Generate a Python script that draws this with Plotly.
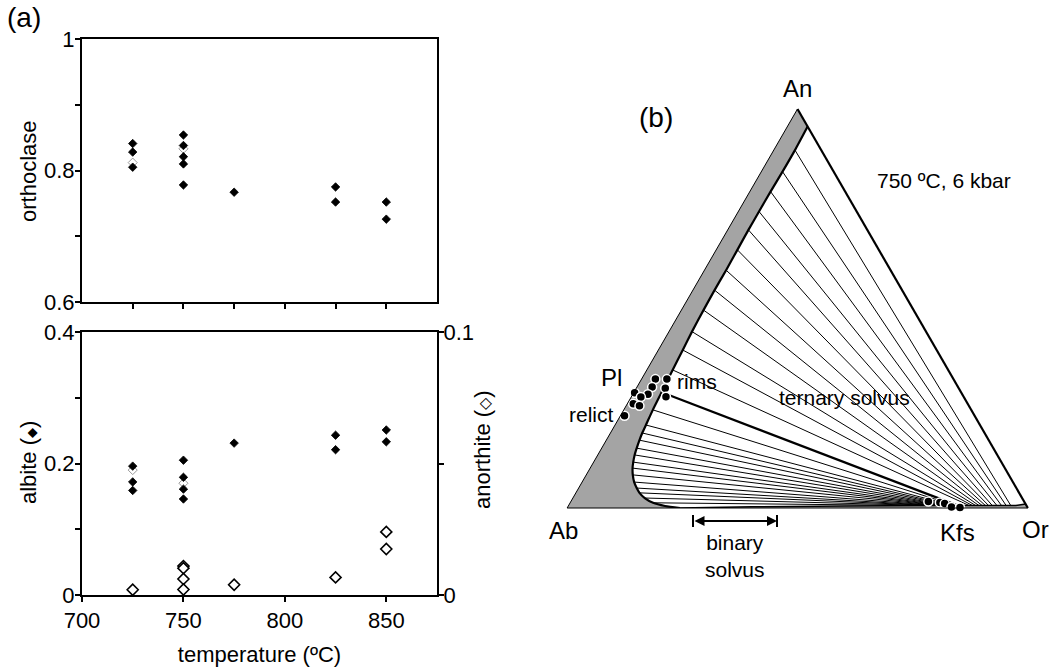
import numpy as np
import plotly.graph_objects as go

# ---------------- panel (a) data ----------------
temp_or = [725, 725, 725, 750, 750, 750, 750, 750, 775, 825, 825, 850, 850]
orthoclase = [0.841, 0.828, 0.805, 0.854, 0.838, 0.821, 0.810, 0.778, 0.767, 0.775, 0.752, 0.752, 0.726]
temp_or_faint = [725, 750]
orthoclase_faint = [0.812, 0.833]

temp_ab = [725, 725, 725, 750, 750, 750, 750, 775, 825, 825, 850, 850]
albite = [0.196, 0.172, 0.159, 0.205, 0.179, 0.161, 0.146, 0.231, 0.243, 0.221, 0.251, 0.233]
temp_ab_faint = [725, 750]
albite_faint = [0.190, 0.170]

temp_an = [725, 750, 750, 750, 750, 775, 825, 850, 850]
anorthite = [0.002, 0.0110, 0.0102, 0.0061, 0.0021, 0.0039, 0.0067, 0.0240, 0.0175]

# ---------------- panel (b) data (ternary An-Ab-Or) ----------------
# plagioclase limb of the 750 C / 6 kbar solvus (top -> Ab-Or join)
pl_limb_an = [0.956, 0.897, 0.843, 0.793, 0.743, 0.697, 0.647, 0.596, 0.546, 0.496,
              0.442, 0.396, 0.346, 0.290, 0.246, 0.208, 0.188, 0.170, 0.150, 0.133,
              0.115, 0.100, 0.083, 0.065, 0.050, 0.038, 0.025, 0.013, 0.005, 0.000]
pl_limb_or = [0.044, 0.046, 0.046, 0.045, 0.045, 0.045, 0.046, 0.047, 0.047, 0.048,
              0.050, 0.053, 0.056, 0.060, 0.063, 0.067, 0.069, 0.072, 0.076, 0.080,
              0.086, 0.092, 0.101, 0.113, 0.126, 0.138, 0.156, 0.180, 0.210, 0.245]
# alkali-feldspar limb (Ab-Or join -> Or corner -> An-Or join)
kfs_limb_an = [0.000, 0.003, 0.005, 0.006, 0.006, 0.010, 0.956]
kfs_limb_or = [0.245, 0.400, 0.600, 0.800, 0.970, 0.990, 0.044]

# tie lines: plagioclase end (An, Or) and K-feldspar end (An, Or)
tie_pl_an = [0.897, 0.843, 0.793, 0.743, 0.697, 0.647, 0.596, 0.546, 0.496, 0.442,
             0.396, 0.346, 0.290, 0.246, 0.208, 0.188, 0.170, 0.150, 0.133, 0.115,
             0.100, 0.083, 0.065, 0.050, 0.038, 0.025, 0.013]
tie_pl_or = [0.046, 0.046, 0.045, 0.045, 0.045, 0.046, 0.047, 0.047, 0.048, 0.050,
             0.053, 0.056, 0.060, 0.063, 0.067, 0.069, 0.072, 0.076, 0.080, 0.086,
             0.092, 0.101, 0.113, 0.126, 0.138, 0.156, 0.180]
tie_kfs_an = [0.006, 0.006, 0.006, 0.006, 0.006, 0.006, 0.006, 0.006, 0.006, 0.006,
              0.006, 0.006, 0.006, 0.006, 0.006, 0.006, 0.006, 0.006, 0.006, 0.006,
              0.006, 0.006, 0.006, 0.006, 0.006, 0.006, 0.006]
tie_kfs_or = [0.960, 0.950, 0.940, 0.930, 0.920, 0.912, 0.905, 0.898, 0.891, 0.884,
              0.877, 0.870, 0.845, 0.840, 0.835, 0.830, 0.826, 0.822, 0.818, 0.814,
              0.810, 0.806, 0.802, 0.798, 0.794, 0.790, 0.786]
thick_tie = 12  # index of the bold tie line

# analysed plagioclase (relict + rims) and K-feldspar
pl_pts_an = [0.323, 0.323, 0.303, 0.300, 0.285, 0.289, 0.278, 0.261, 0.256, 0.231, 0.279]
pl_pts_or = [0.030, 0.055, 0.033, 0.063, 0.033, 0.002, 0.021, 0.013, 0.029, 0.009, 0.075]
kfs_pts_an = [0.016, 0.014, 0.011, 0.0025, 0.0013]
kfs_pts_or = [0.776, 0.802, 0.814, 0.833, 0.852]

FONT = "Liberation Sans, Arial, sans-serif"
W, H = 1050, 669


def ab_of(an, orr):
    return [None if a is None else 1 - a - o for a, o in zip(an, orr)]


fig = go.Figure()

# ---------------- panel (a) traces ----------------
fig.add_trace(go.Scatter(x=temp_or_faint, y=orthoclase_faint, mode="markers", cliponaxis=False,
                         marker=dict(symbol="diamond-open", size=7, color="#9a9a9a", line=dict(width=1)),
                         xaxis="x", yaxis="y", showlegend=False, hoverinfo="skip"))
fig.add_trace(go.Scatter(x=temp_or, y=orthoclase, mode="markers", cliponaxis=False,
                         marker=dict(symbol="diamond", size=6.5, color="black", line=dict(width=0.8, color="black")),
                         xaxis="x", yaxis="y", showlegend=False))
fig.add_trace(go.Scatter(x=temp_ab_faint, y=albite_faint, mode="markers", cliponaxis=False,
                         marker=dict(symbol="diamond-open", size=7, color="#9a9a9a", line=dict(width=1)),
                         xaxis="x2", yaxis="y2", showlegend=False, hoverinfo="skip"))
fig.add_trace(go.Scatter(x=temp_ab, y=albite, mode="markers", cliponaxis=False,
                         marker=dict(symbol="diamond", size=6.5, color="black", line=dict(width=0.8, color="black")),
                         xaxis="x2", yaxis="y2", showlegend=False))
fig.add_trace(go.Scatter(x=temp_an, y=anorthite, mode="markers", cliponaxis=False,
                         marker=dict(symbol="diamond", size=8.5, color="white", line=dict(width=1.6, color="black")),
                         xaxis="x2", yaxis="y3", showlegend=False))

# ---------------- panel (b) traces ----------------
# two-phase field (white) bounded by the two limbs
field_an = pl_limb_an + kfs_limb_an[1:]
field_or = pl_limb_or + kfs_limb_or[1:]
fig.add_trace(go.Scatterternary(a=field_an, b=ab_of(field_an, field_or), c=field_or,
                                mode="lines", fill="toself", fillcolor="white",
                                line=dict(width=0, color="white"), showlegend=False, hoverinfo="skip"))

# tie lines
ta, tc = [], []
for i in range(len(tie_pl_an)):
    if i == thick_tie:
        continue
    ta += [tie_pl_an[i], tie_kfs_an[i], None]
    tc += [tie_pl_or[i], tie_kfs_or[i], None]
fig.add_trace(go.Scatterternary(a=ta, b=ab_of(ta, tc), c=tc, mode="lines",
                                line=dict(width=1, color="black"), showlegend=False, hoverinfo="skip"))
ka = [tie_pl_an[thick_tie], tie_kfs_an[thick_tie]]
kc = [tie_pl_or[thick_tie], tie_kfs_or[thick_tie]]
fig.add_trace(go.Scatterternary(a=ka, b=ab_of(ka, kc), c=kc, mode="lines",
                                line=dict(width=2.2, color="black"), showlegend=False, hoverinfo="skip"))

# solvus limbs
fig.add_trace(go.Scatterternary(a=pl_limb_an, b=ab_of(pl_limb_an, pl_limb_or), c=pl_limb_or,
                                mode="lines", line=dict(width=2.2, color="black", shape="spline", smoothing=0.6),
                                showlegend=False, hoverinfo="skip"))
fig.add_trace(go.Scatterternary(a=kfs_limb_an[:-1], b=ab_of(kfs_limb_an[:-1], kfs_limb_or[:-1]), c=kfs_limb_or[:-1],
                                mode="lines", line=dict(width=1.5, color="black"),
                                showlegend=False, hoverinfo="skip"))

# analyses
fig.add_trace(go.Scatterternary(a=pl_pts_an, b=ab_of(pl_pts_an, pl_pts_or), c=pl_pts_or,
                                mode="markers", cliponaxis=False,
                                marker=dict(symbol="circle", size=9, color="black", line=dict(width=1.5, color="white")),
                                showlegend=False))
fig.add_trace(go.Scatterternary(a=kfs_pts_an, b=ab_of(kfs_pts_an, kfs_pts_or), c=kfs_pts_or,
                                mode="markers", cliponaxis=False,
                                marker=dict(symbol="circle", size=9, color="black", line=dict(width=1.5, color="white")),
                                showlegend=False))


def px(x):
    return x / W


def py(y):
    return 1 - y / H


axis_common = dict(showline=True, linewidth=2, linecolor="black", showgrid=False, zeroline=False,
                   ticks="outside", ticklen=5, tickwidth=1.5, tickcolor="black", automargin=False,
                   tickfont=dict(size=22, color="black", family=FONT))

tern_axis = dict(showticklabels=False, ticks="", showgrid=False, showline=True,
                 linecolor="black", linewidth=1, title=dict(text=""))

SYM = "font-family:DejaVu Sans;color:black"

fig.update_layout(
    width=W, height=H, margin=dict(l=0, r=0, t=0, b=0, autoexpand=False),
    paper_bgcolor="white", plot_bgcolor="white",
    font=dict(family=FONT, size=22, color="black"),
    xaxis=dict(domain=[px(82), px(437)], range=[700, 875], anchor="y",
               tickvals=[725, 750, 775, 800, 825, 850], showticklabels=False, mirror=True, **axis_common),
    yaxis=dict(domain=[py(302), py(39)], range=[0.6, 1.0], anchor="x", ticklabelstandoff=-4,
               tickvals=[0.6, 0.7, 0.8, 0.9, 1.0], ticktext=["0.6", "", "0.8", "", "1"], mirror=True,
               **axis_common),
    xaxis2=dict(domain=[px(82), px(437)], range=[700, 875], anchor="y2",
                tickvals=[700, 750, 800, 850], ticktext=["700", "750", "800", "850"], mirror=True,
                title=dict(text="temperature (ºC)", standoff=14, font=dict(size=22)), **axis_common),
    yaxis2=dict(domain=[py(595), py(332)], range=[0, 0.4], anchor="x2", ticklabelstandoff=-4,
                tickvals=[0, 0.1, 0.2, 0.3, 0.4], ticktext=["0", "", "0.2", "", "0.4"],
                **axis_common),
    yaxis3=dict(range=[0, 0.1], anchor="x2", overlaying="y2", side="right", ticklabelstandoff=-5,
                tickvals=[0, 0.05, 0.1], ticktext=["0", "", "0.1"],
                **axis_common),
    ternary=dict(domain=dict(x=[px(567), px(1028)], y=[py(508), py(109)]), sum=1,
                 bgcolor="#a4a4a4",
                 aaxis=tern_axis, baxis=tern_axis,
                 caxis=dict(tern_axis, linewidth=2.2)),
)

# y-axis titles (rotated text)
ytitles = [
    ("orthoclase", 28, 171),
    (f"albite (<span style='font-size:13px;{SYM}'>◆</span>)", 28, 463),
    (f"anorthite (<span style='font-size:16px;{SYM}'>◇</span>)", 482, 450),
]
for txt, x, y in ytitles:
    fig.add_annotation(text=txt, x=px(x), y=py(y), xref="paper", yref="paper", showarrow=False,
                       textangle=-90, xanchor="center", yanchor="middle",
                       font=dict(size=22, family=FONT, color="black"))

ann = [
    ("(a)", 24, 17, 28), ("(b)", 656, 117, 28), ("An", 797, 88, 24),
    ("750 ºC, 6 kbar", 944, 181, 21), ("Pl", 611, 377, 24), ("relict", 591, 414, 21),
    ("rims", 697, 382, 21), ("ternary solvus", 844, 397, 21), ("binary<br>solvus", 735, 556, 21),
    ("Ab", 563, 530, 24), ("Kfs", 957, 532, 24), ("Or", 1035, 529, 24),
]
for txt, x, y, s in ann:
    fig.add_annotation(text=txt, x=px(x), y=py(y), xref="paper", yref="paper", showarrow=False,
                       xanchor="center", yanchor="middle", font=dict(size=s, family=FONT, color="black"))

# binary solvus double arrow
fig.add_annotation(x=px(777), y=py(521), ax=-84, ay=0, xref="paper", yref="paper", text="",
                   showarrow=True, arrowhead=2, arrowside="end+start", arrowsize=1, arrowwidth=2,
                   arrowcolor="black")
for xb in (693, 777):
    fig.add_shape(type="line", xref="paper", yref="paper", x0=px(xb), x1=px(xb), y0=py(515), y1=py(527),
                  line=dict(color="black", width=2))

fig.write_html("out.html")
